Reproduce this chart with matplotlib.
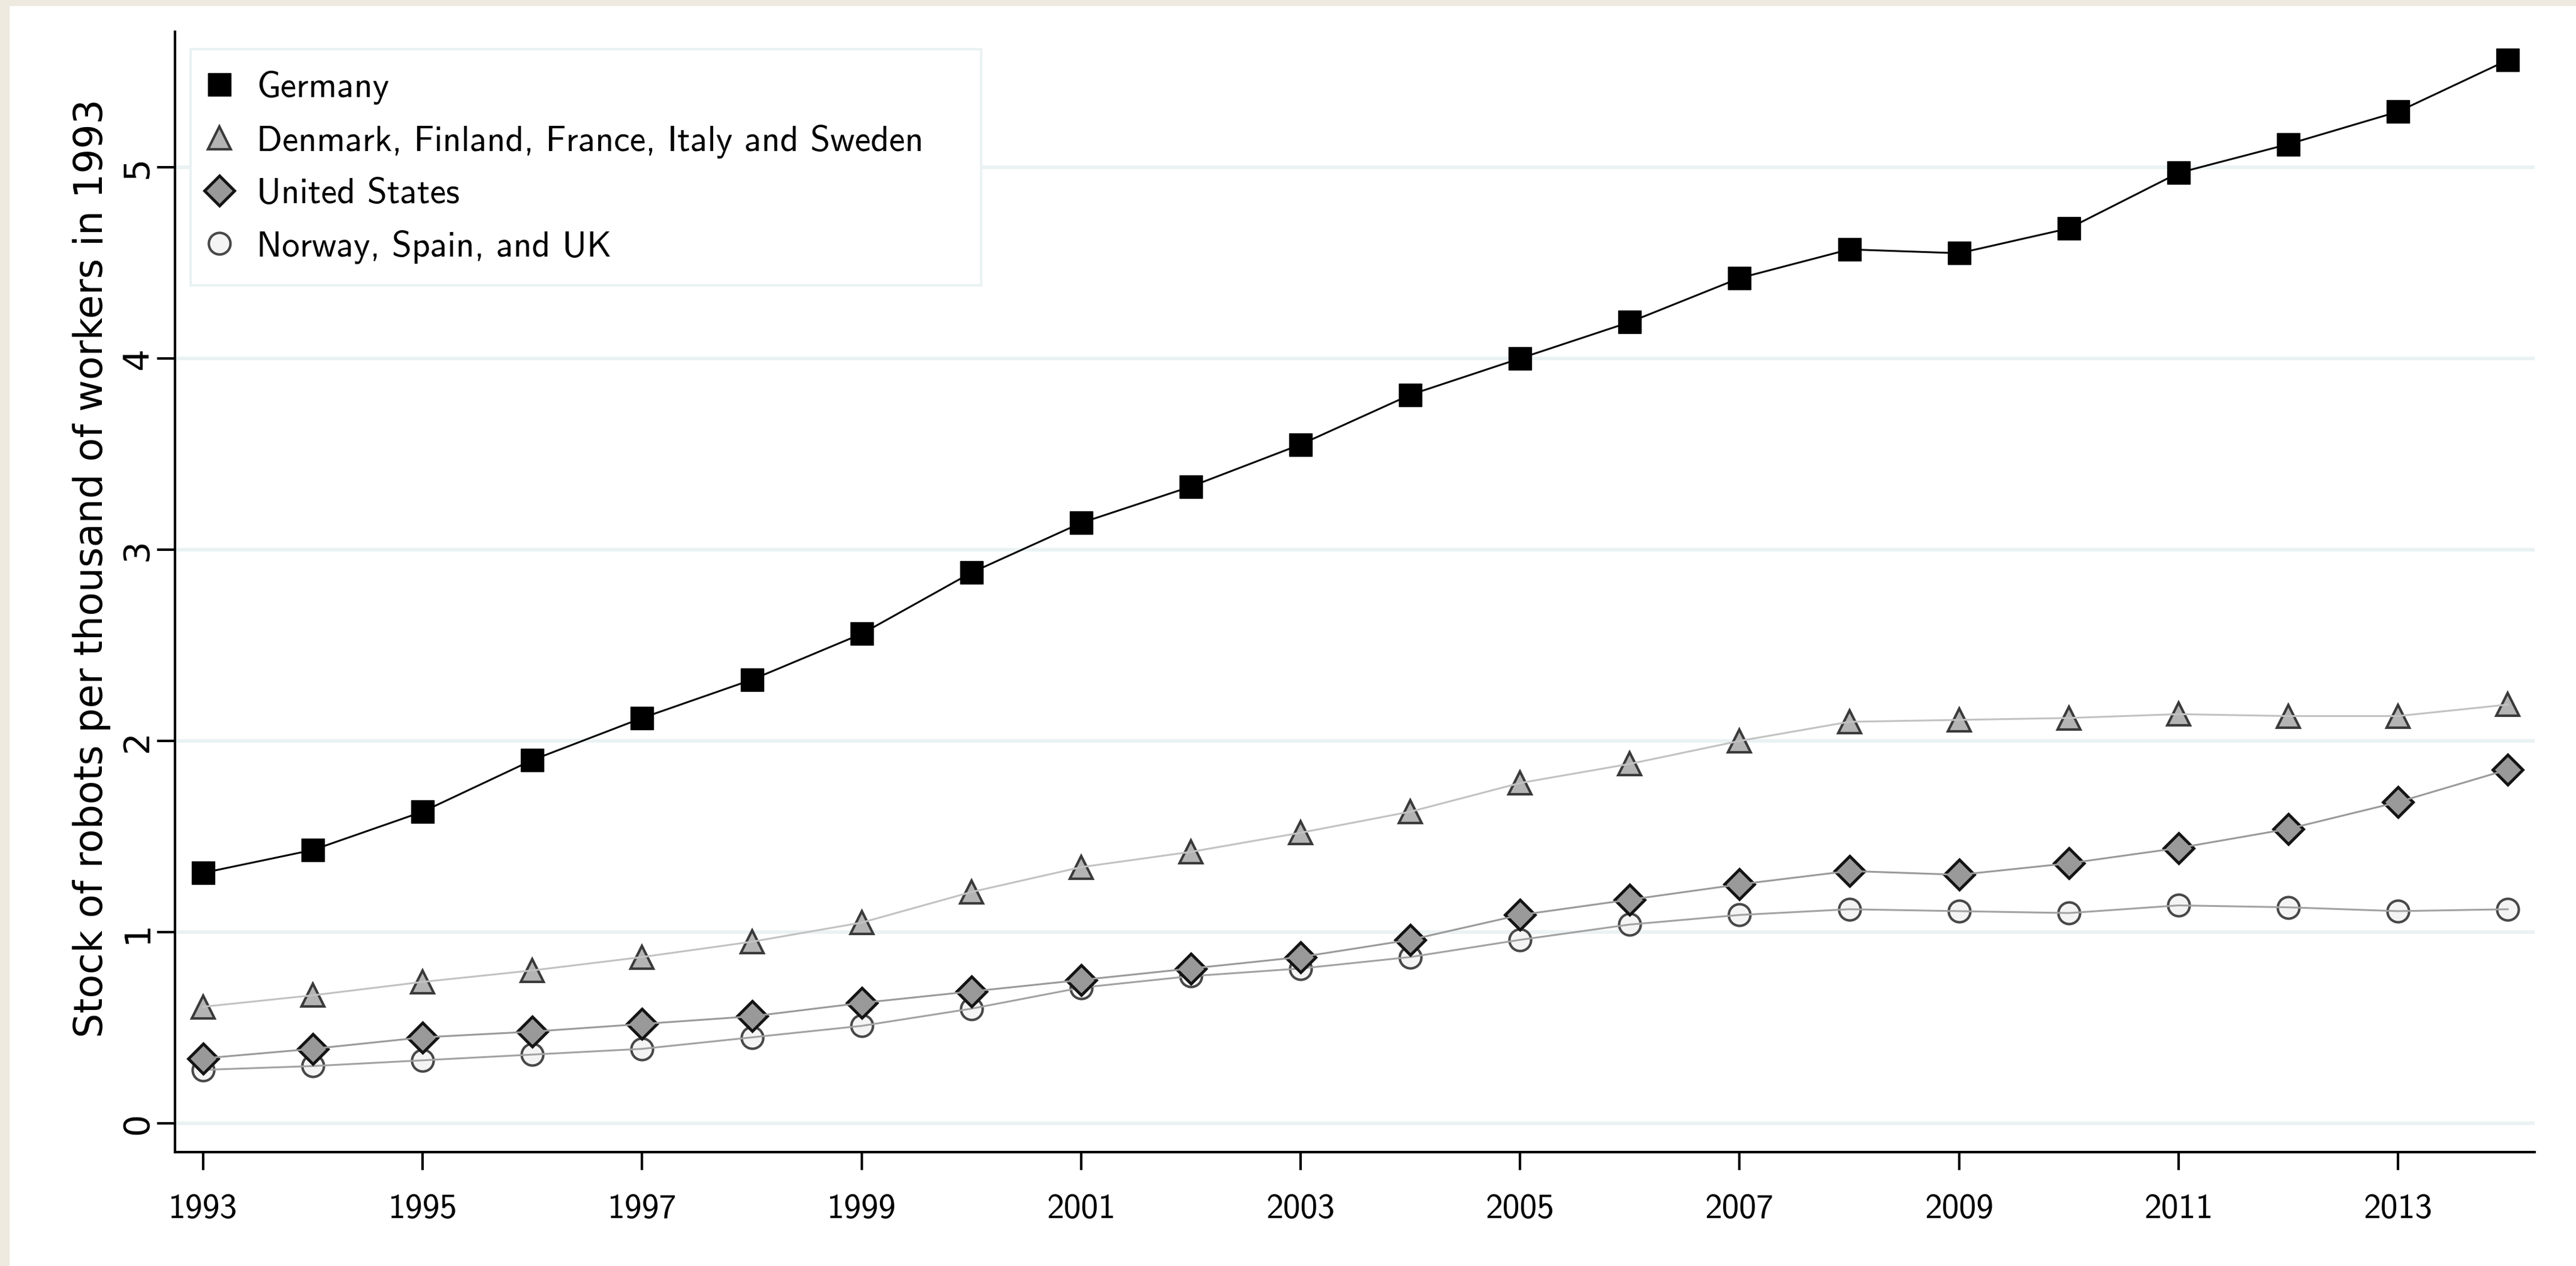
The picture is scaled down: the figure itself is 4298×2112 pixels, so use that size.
import matplotlib
matplotlib.use("Agg")
import matplotlib.pyplot as plt
from matplotlib.lines import Line2D
from matplotlib.patches import Rectangle

# robots per thousand workers (1993 employment), by country group
years = list(range(1993, 2015))
germany = [1.31, 1.43, 1.63, 1.90, 2.12, 2.32, 2.56, 2.88, 3.14, 3.33, 3.55,
           3.81, 4.00, 4.19, 4.42, 4.57, 4.55, 4.68, 4.97, 5.12, 5.29, 5.56]
nordic_fr_it = [0.61, 0.67, 0.74, 0.80, 0.87, 0.95, 1.05, 1.21, 1.34, 1.42, 1.52,
                1.63, 1.78, 1.88, 2.00, 2.10, 2.11, 2.12, 2.14, 2.13, 2.13, 2.19]
united_states = [0.34, 0.39, 0.45, 0.48, 0.52, 0.56, 0.63, 0.69, 0.75, 0.81, 0.87,
                 0.96, 1.09, 1.17, 1.25, 1.32, 1.30, 1.36, 1.44, 1.54, 1.68, 1.85]
nor_spa_uk = [0.28, 0.30, 0.33, 0.36, 0.39, 0.45, 0.51, 0.60, 0.71, 0.77, 0.81,
              0.87, 0.96, 1.04, 1.09, 1.12, 1.11, 1.10, 1.14, 1.13, 1.11, 1.12]

labels = ["Germany", "Denmark, Finland, France, Italy and Sweden",
          "United States", "Norway, Spain, and UK"]
xticks = list(range(1993, 2014, 2))
yticks = [0, 1, 2, 3, 4, 5]

W, H = 4298, 2112
fig = plt.figure(figsize=(W / 100, H / 100), dpi=100)
fig.patch.set_facecolor("white")
# thin beige strips along the top and left edges
fig.patches.append(Rectangle((0, 1 - 9 / H), 1, 9 / H, transform=fig.transFigure,
                             color="#EEEAE0", zorder=0))
fig.patches.append(Rectangle((0, 0), 15 / W, 1, transform=fig.transFigure,
                             color="#EEEAE0", zorder=0))

ax = fig.add_axes([292 / W, (H - 1922) / H, (4229 - 292) / W, (1922 - 53) / H])

series = [
    # values, marker, size, face, edge, edge width, line colour, zorder
    (germany, "s", 28, "black", "black", 1.0, "black", 6),
    (nordic_fr_it, "^", 27, "#B4B4B4", "#3A3A3A", 3.0, "#C2C2C2", 5),
    (united_states, "D", 25, "#999999", "#141414", 3.5, "#9A9A9A", 4),
    (nor_spa_uk, "o", 26, "#F4F4F4", "#484848", 3.0, "#A2A2A2", 3),
]

handles = []
for vals, mk, ms, fc, ec, mew, lc, z in series:
    ax.plot(years, vals, linestyle="none", marker=mk, markersize=ms,
            markerfacecolor=fc, markeredgecolor=ec, markeredgewidth=mew, zorder=z)
    ax.plot(years, vals, color=lc, linewidth=2.2, zorder=z + 0.5)
    handles.append(Line2D([], [], linestyle="none", marker=mk, markersize=ms,
                          markerfacecolor=fc, markeredgecolor=ec, markeredgewidth=mew))

ax.set_xlim(1992.743, 2014.245)
ax.set_ylim(-0.150, 5.708)

ax.set_xticks(xticks)
ax.set_xticklabels([str(y) for y in xticks], family="cmss10", fontsize=41.5)
ax.set_yticks(yticks)
ax.set_yticklabels([str(v) for v in yticks], family="DejaVu Sans", fontsize=42,
                   rotation=90, va="center")
ax.tick_params(axis="x", length=21.6, width=3, pad=28)
ax.tick_params(axis="y", length=21.6, width=3, pad=3)

for side in ["top", "right"]:
    ax.spines[side].set_visible(False)
for side in ["left", "bottom"]:
    ax.spines[side].set_linewidth(3)

ax.set_axisbelow(True)
ax.yaxis.grid(True, color="#EAF2F3", linewidth=4.3)
ax.xaxis.grid(False)

fig.text(153 / W, 1 - 948 / H, "Stock of robots per thousand of workers in 1993",
         rotation=90, ha="center", va="center", family="DejaVu Sans", fontsize=46.7)

leg = ax.legend(handles, labels, loc="upper left", mode="expand",
                bbox_to_anchor=(318 / W, 1 - 470 / H, (1637 - 318) / W, (470 - 82) / H),
                bbox_transform=fig.transFigure, borderaxespad=0,
                prop={"family": "cmss10", "size": 43}, handlelength=0.4,
                handletextpad=0.85, borderpad=0.6, labelspacing=0.55,
                frameon=True, fancybox=False, framealpha=1)
leg.get_frame().set_edgecolor("#EAF2F3")
leg.get_frame().set_linewidth(3)

fig.savefig("out.png", dpi=100)
